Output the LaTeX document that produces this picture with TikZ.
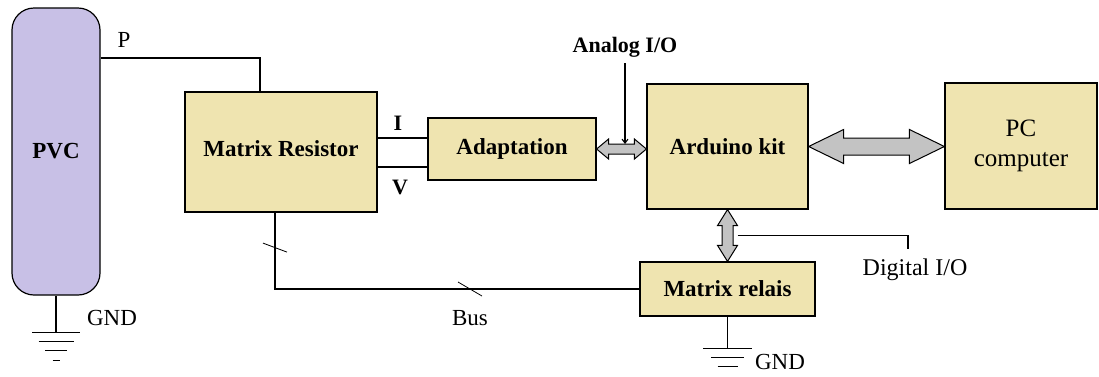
\documentclass[tikz,border=0pt]{standalone}
\usepackage{fontspec}
\setmainfont{Liberation Serif}
\usetikzlibrary{arrows.meta,positioning,calc}

\definecolor{boxfill}{RGB}{239,228,176}
\definecolor{pvcfill}{RGB}{200,192,230}
\definecolor{arrowgrey}{RGB}{195,195,195}

% wide two-way arrows: from, to, half shaft, half head, head length
\newcommand{\hdblarrow}[5]{%
  \draw[twoway] (#1) -- ++(#5,-#4) -- ++(0,#4-#3) -- ($(#2)+(-#5,-#3)$)
    -- ++(0,#3-#4) -- (#2) -- ++(-#5,#4) -- ++(0,#3-#4)
    -- ($(#1)+(#5,#3)$) -- ++(0,#4-#3) -- cycle;}
\newcommand{\vdblarrow}[5]{%
  \draw[twoway] (#1) -- ++(-#4,#5) -- ++(#4-#3,0) -- ($(#2)+(-#3,-#5)$)
    -- ++(#3-#4,0) -- (#2) -- ++(#4,-#5) -- ++(#3-#4,0)
    -- ($(#1)+(#3,#5)$) -- ++(#4-#3,0) -- cycle;}

\begin{document}
\begin{tikzpicture}[x=1pt, y=-1pt,
  block/.style={draw, fill=boxfill, line width=1.2pt, align=center,
                font=\fontsize{23}{29}\selectfont\bfseries, inner sep=0pt},
  lbl/.style={font=\fontsize{23}{26}\selectfont, inner sep=0pt},
  blbl/.style={font=\fontsize{22}{26}\selectfont\bfseries, inner sep=0pt},
  wire/.style={line width=1.1pt},
  tick/.style={line width=0.8pt},
  twoway/.style={draw, fill=arrowgrey, line width=1pt, line join=miter}
]
  \useasboundingbox (0,0) rectangle (1099,376);

  % Blocks
  \node[block, fill=pvcfill, rounded corners=22pt,
        minimum width=88pt, minimum height=287pt] (pvc) at (56,151.5) {PVC};
  \node[block, minimum width=192pt, minimum height=120pt] (mres) at (281,152)
    {\raisebox{6pt}{Matrix Resistor}};
  \node[block, minimum width=168pt, minimum height=62pt] (adapt) at (512,149) {Adaptation};
  \node[block, minimum width=161pt, minimum height=125pt] (ard) at (727.5,146.5) {Arduino kit};
  \node[block, font=\fontsize{25}{30}\selectfont,
        minimum width=152pt, minimum height=126pt] (pc) at (1021,146) {PC\\computer};
  \node[block, minimum width=175pt, minimum height=54pt] (relais) at (727.5,289) {Matrix relais};

  % Labels
  \node[lbl] (plbl) at (124,40) {P};
  \node[blbl] (ilbl) at (398,123) {I};
  \node[blbl] (vlbl) at (400,187) {V};
  \node[blbl] (alog) at (625,47) {Analog I/O};
  \node[lbl, font=\fontsize{24}{26}\selectfont] (dig) at (915,270) {Digital I/O};
  \node[lbl] (bus) at (470,318) {Bus};
  \node[lbl] (gnd1) at (112,318) {GND};
  \node[lbl] (gnd2) at (780,362) {GND};

  % P line
  \draw[wire] (pvc.east |- 0,58) -| ([xshift=-21pt]mres.north);

  % I and V lines
  \draw[wire] ($(mres.east)+(0,-14)$) coordinate (i0) -- (i0 -| adapt.west);
  \draw[wire] ($(mres.east)+(0,15)$) coordinate (v0) -- (v0 -| adapt.west);

  % Bus
  \draw[wire] ($(mres.south)+(-6,0)$) |- (relais.west);
  \coordinate (s1) at ($(mres.south)+(-6,35)$);
  \draw[tick] ($(s1)+(-12,-4.5)$) -- ($(s1)+(12,4.5)$);
  \coordinate (s2) at (bus.north |- relais.west);
  \draw[tick] ($(s2)+(-12,-7)$) -- ($(s2)+(12,7)$);

  % Two-way arrows
  \coordinate (aa) at (adapt.east -| ard.west);
  \hdblarrow{adapt.east}{aa}{5}{10}{12}
  \coordinate (bb) at (ard.east -| pc.west);
  \hdblarrow{ard.east}{bb}{8.5}{17}{35}
  \vdblarrow{ard.south}{relais.north}{5.5}{10}{16}

  % Analog and digital I/O
  \draw[wire, shorten <=6pt, -{Straight Barb[length=4pt,width=6pt]}]
    (alog.south) -- ($(alog.south |- adapt.east)+(0,-5)$);
  \draw[wire] ($(ard.south)+(10,26)$) -| ($(dig.north)+(-7,-10)$);

  % Ground of PVC
  \draw[wire] (pvc.south) -- ++(0,37) coordinate (g1);
  \draw[wire] ($(g1)+(-24,0)$) -- ($(g1)+(24,0)$);
  \draw[wire] ($(g1)+(-17.5,9)$) -- ($(g1)+(17.5,9)$);
  \draw[wire] ($(g1)+(-11,18)$) -- ($(g1)+(11,18)$);
  \draw[wire] ($(g1)+(-3.5,28)$) -- ($(g1)+(3.5,28)$);

  % Ground of relais
  \draw[wire] (relais.south) -- ++(0,32) coordinate (g2);
  \draw[wire] ($(g2)+(-24.5,0)$) -- ($(g2)+(24.5,0)$);
  \draw[wire] ($(g2)+(-16.5,9)$) -- ($(g2)+(16.5,9)$);
  \draw[wire] ($(g2)+(-10,18)$) -- ($(g2)+(10,18)$);
\end{tikzpicture}
\end{document}
